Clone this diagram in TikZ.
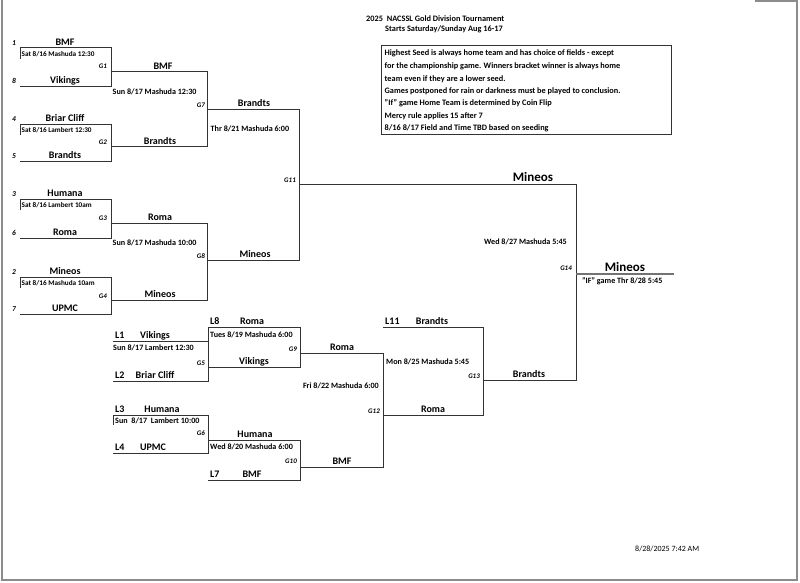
\documentclass[tikz,border=0pt]{standalone}
\usepackage{fontspec}
\setmainfont{Carlito}
\begin{document}
\begin{tikzpicture}[x=1pt,y=-1pt,
  ln/.style={draw=black!80,line width=0.8pt},
  team/.style={font=\bfseries\fontsize{10}{12}\selectfont,inner sep=0pt,anchor=base},
  bigteam/.style={font=\bfseries\fontsize{13}{15}\selectfont,inner sep=0pt,anchor=base},
  teamw/.style={font=\bfseries\fontsize{10}{12}\selectfont,inner sep=0pt,anchor=base west},
  info1/.style={font=\bfseries\fontsize{7.2}{9}\selectfont,inner sep=0pt,anchor=base west},
  info/.style={font=\bfseries\fontsize{8.1}{9}\selectfont,inner sep=0pt,anchor=base west},
  infoe/.style={font=\bfseries\fontsize{8.1}{9}\selectfont,inner sep=0pt,anchor=base east},
  glab/.style={font=\bfseries\itshape\fontsize{7}{8}\selectfont,inner sep=0pt,anchor=base east},
  seed/.style={font=\bfseries\itshape\fontsize{7.5}{8}\selectfont,inner sep=0pt,anchor=base},
  note/.style={font=\bfseries\fontsize{8.3}{9}\selectfont,inner sep=0pt,anchor=base west},
  frame/.style={draw=black!45,line width=1.6pt}]
\useasboundingbox (0,0) rectangle (800,582);
\fill[white] (0,0) rectangle (800,582);
% scan frame
\draw[frame] (2,0) -- (2,580) -- (797,580) -- (797,0);
\draw[frame] (755,1) -- (797,1);

% ---------- coordinates ----------
% round 1
\coordinate (g1a) at (20,47.5);  \coordinate (g1b) at (111,47.5);  \coordinate (g1c) at (20,86);   \coordinate (g1d) at (111,86);   \coordinate (g1o) at (111,71.7);
\coordinate (g2a) at (20,124);   \coordinate (g2b) at (111,124);   \coordinate (g2c) at (20,161);  \coordinate (g2d) at (111,161);  \coordinate (g2o) at (111,146.7);
\coordinate (g3a) at (20,199);   \coordinate (g3b) at (111,199);   \coordinate (g3c) at (20,238);  \coordinate (g3d) at (111,238);  \coordinate (g3o) at (111,223.3);
\coordinate (g4a) at (20,277);   \coordinate (g4b) at (111,277);   \coordinate (g4c) at (20,314);  \coordinate (g4d) at (111,314);  \coordinate (g4o) at (111,300);
% round 2
\coordinate (g7a) at (207,71.7); \coordinate (g7b) at (207,146.7); \coordinate (g7o) at (207,109);
\coordinate (g8a) at (207,223.3);\coordinate (g8b) at (207,300);   \coordinate (g8o) at (207,260);
% round 3
\coordinate (g11a) at (299,109); \coordinate (g11b) at (299,260);  \coordinate (g11o) at (299,184);
% final
\coordinate (g14a) at (576,184); \coordinate (g14b) at (576,380);  \coordinate (g14o) at (576,274); \coordinate (champ) at (674,274);
% losers
\coordinate (g5a) at (113,341);  \coordinate (g5b) at (208,341);   \coordinate (g5c) at (113,381); \coordinate (g5d) at (208,381); \coordinate (g5o) at (208,367);
\coordinate (g9a) at (208,327);  \coordinate (g9b) at (300,327);   \coordinate (g9c) at (300,367); \coordinate (g9o) at (300,353);
\coordinate (g6a) at (113,415);  \coordinate (g6b) at (208,415);   \coordinate (g6c) at (113,453); \coordinate (g6d) at (208,453); \coordinate (g6o) at (208,440);
\coordinate (g10a) at (208,480); \coordinate (g10b) at (300,480);  \coordinate (g10c) at (300,440); \coordinate (g10o) at (300,467);
\coordinate (g12a) at (383,353); \coordinate (g12b) at (383,467);  \coordinate (g12o) at (383,415);
\coordinate (g13a) at (383,327); \coordinate (g13b) at (483,327);  \coordinate (g13c) at (483,415); \coordinate (g13o) at (483,380);

% ---------- lines ----------
\foreach \g in {g1,g2,g3,g4}{
  \draw[ln] (\g a) -- (\g b) -- (\g d) -- (\g c);
  \draw[ln] (\g a) -- ++(0,11);
}
\draw[ln] (g1o) -- (g7a) -- (g7b) -- (g2o);
\draw[ln] (g3o) -- (g8a) -- (g8b) -- (g4o);
\draw[ln] (g7o) -- (g11a) -- (g11b) -- (g8o);
\draw[ln] (g11o) -- (g14a) -- (g14b) -- (g13o);
\draw[draw=black!55,line width=2.4pt] (g14o) -- (champ);
% losers bracket
\draw[ln] (g5a) -- (g5b) -- (g5d) -- (g5c);
\draw[ln] (g5b) -- (g9a) -- (g9b) -- (g9c) -- (g5o);
\draw[ln] (g6a) -- (g6b) -- (g6d) -- (g6c);
\draw[ln] (g6a) -- ++(0,10);
\draw[ln] (g6o) -- (g10c) -- (g10b) -- (g10a);
\draw[ln] (g9o) -- (g12a) -- (g12b) -- (g10o);
\draw[ln] (g12o) -- (g13c) -- (g13b) -- (g13a);

% ---------- round 1 texts ----------
\node[seed] (s1) at (14,45) {1};   \node[team] (t1) at (65,45) {BMF};
\node[seed] (s8) at (14,83.5) {8}; \node[team] (t8) at (65,83.5) {Vikings};
\node[info1] (d1) at (21.5,56.5) {Sat 8/16 Mashuda 12:30};
\node[glab] (G1) at (107,68.5) {G1};
\node[seed] (s4) at (14,121.5) {4}; \node[team] (t4) at (65,121.5) {Briar Cliff};
\node[seed] (s5) at (14,158.5) {5}; \node[team] (t5) at (65,158.5) {Brandts};
\node[info1] (d2) at (21.5,132) {Sat 8/16 Lambert 12:30};
\node[glab] (G2) at (107,144.5) {G2};
\node[seed] (s3) at (14,196.5) {3}; \node[team] (t3) at (65,196.5) {Humana};
\node[seed] (s6) at (14,235.5) {6}; \node[team] (t6) at (65,235.5) {Roma};
\node[info1] (d3) at (21.5,207.5) {Sat 8/16 Lambert 10am};
\node[glab] (G3) at (107,220.5) {G3};
\node[seed] (s2) at (14,274.5) {2}; \node[team] (t2) at (65,274.5) {Mineos};
\node[seed] (s7) at (14,311.5) {7}; \node[team] (t7) at (65,311.5) {UPMC};
\node[info1] (d4) at (21.5,285.5) {Sat 8/16 Mashuda 10am};
\node[glab] (G4) at (107,298) {G4};

% ---------- round 2 texts ----------
\node[team] (w1) at (163,69.2) {BMF};
\node[team] (w2) at (160,144.2) {Brandts};
\node[team] (w3) at (160,220.8) {Roma};
\node[team] (w4) at (160,297.5) {Mineos};
\node[info] (d7) at (112.5,94) {Sun 8/17 Mashuda 12:30};
\node[glab] (G7) at (205,107.3) {G7};
\node[info] (d8) at (112.5,245.7) {Sun 8/17 Mashuda 10:00};
\node[glab] (G8) at (205,258.3) {G8};

% ---------- round 3 / final texts ----------
\node[team] (w7) at (254,106.5) {Brandts};
\node[team] (w8) at (255,257.5) {Mineos};
\node[info] (d11) at (210.5,131.7) {Thr 8/21 Mashuda 6:00};
\node[glab] (G11) at (296,182.3) {G11};
\node[bigteam] (w11) at (533,181.5) {Mineos};
\node[infoe] (d14) at (567,244.4) {Wed 8/27 Mashuda 5:45};
\node[glab] (G14) at (572,270.3) {G14};
\node[bigteam] (w14) at (625,271.5) {Mineos};
\node[info] (dif) at (582,283.4) {"IF" game Thr 8/28 5:45};

% ---------- losers texts ----------
\node[teamw] (l1) at (115,338.5) {L1};  \node[team] (l1t) at (155,338.5) {Vikings};
\node[info] (d5) at (113,350.4) {Sun 8/17 Lambert 12:30};
\node[glab] (G5) at (205,365.5) {G5};
\node[teamw] (l2) at (115,378.5) {L2};  \node[team] (l2t) at (155,378.5) {Briar Cliff};
\node[teamw] (l8) at (210,324.5) {L8};  \node[team] (l8t) at (252,324.5) {Roma};
\node[info] (d9) at (210,337.4) {Tues 8/19 Mashuda 6:00};
\node[glab] (G9) at (297,351) {G9};
\node[team] (w5) at (254,364.5) {Vikings};
\node[team] (w9) at (342,350.5) {Roma};
\node[teamw] (l3) at (115,412.5) {L3};  \node[team] (l3t) at (162,412.5) {Humana};
\node[info] (d6) at (115,423.4) {Sun\ \ 8/17\ \ Lambert 10:00};
\node[glab] (G6) at (205,435.3) {G6};
\node[teamw] (l4) at (115,450.5) {L4};  \node[team] (l4t) at (153,450.5) {UPMC};
\node[team] (w6) at (255,437.5) {Humana};
\node[info] (d10) at (210,449.4) {Wed 8/20 Mashuda 6:00};
\node[glab] (G10) at (297,463.3) {G10};
\node[teamw] (l7) at (210,477.5) {L7};  \node[team] (l7t) at (252,477.5) {BMF};
\node[team] (w10) at (342,464.5) {BMF};
\node[infoe] (d12) at (379,388.4) {Fri 8/22 Mashuda 6:00};
\node[glab] (G12) at (380,413) {G12};
\node[team] (w12) at (433,412.5) {Roma};
\node[teamw] (l11) at (385,324.5) {L11}; \node[team] (l11t) at (432,324.5) {Brandts};
\node[info] (d13) at (386,364.4) {Mon 8/25 Mashuda 5:45};
\node[glab] (G13) at (480,378) {G13};
\node[team] (w13) at (529,377.5) {Brandts};

% ---------- header / notes ----------
\node[note] (title) at (366,21.5) {2025\ \ NACSSL Gold Division Tournament};
\node[note] (sub) at (385,31.5) {Starts Saturday/Sunday Aug 16-17};
\draw[draw=black!80,line width=0.9pt] (381,45) rectangle (671,134);
\node[note] (n1) at (384.5,55.3) {Highest Seed is always home team and has choice of fields - except};
\node[note] (n2) at (384.5,68.6) {for the championship game. Winners bracket winner is always home};
\node[note] (n3) at (384.5,81.9) {team even if they are a lower seed.};
\node[note] (n4) at (384.5,93.6) {Games postponed for rain or darkness must be played to conclusion.};
\node[note] (n5) at (384.5,105.9) {"If" game Home Team is determined by Coin Flip};
\node[note] (n6) at (384.5,118.6) {Mercy rule applies 15 after 7};
\node[note] (n7) at (384.5,130.9) {8/16 8/17 Field and Time TBD based on seeding};
\node[font=\fontsize{8}{9}\selectfont,inner sep=0pt,anchor=base west] (stamp) at (635,551.5) {8/28/2025 7:42 AM};
\end{tikzpicture}
\end{document}
